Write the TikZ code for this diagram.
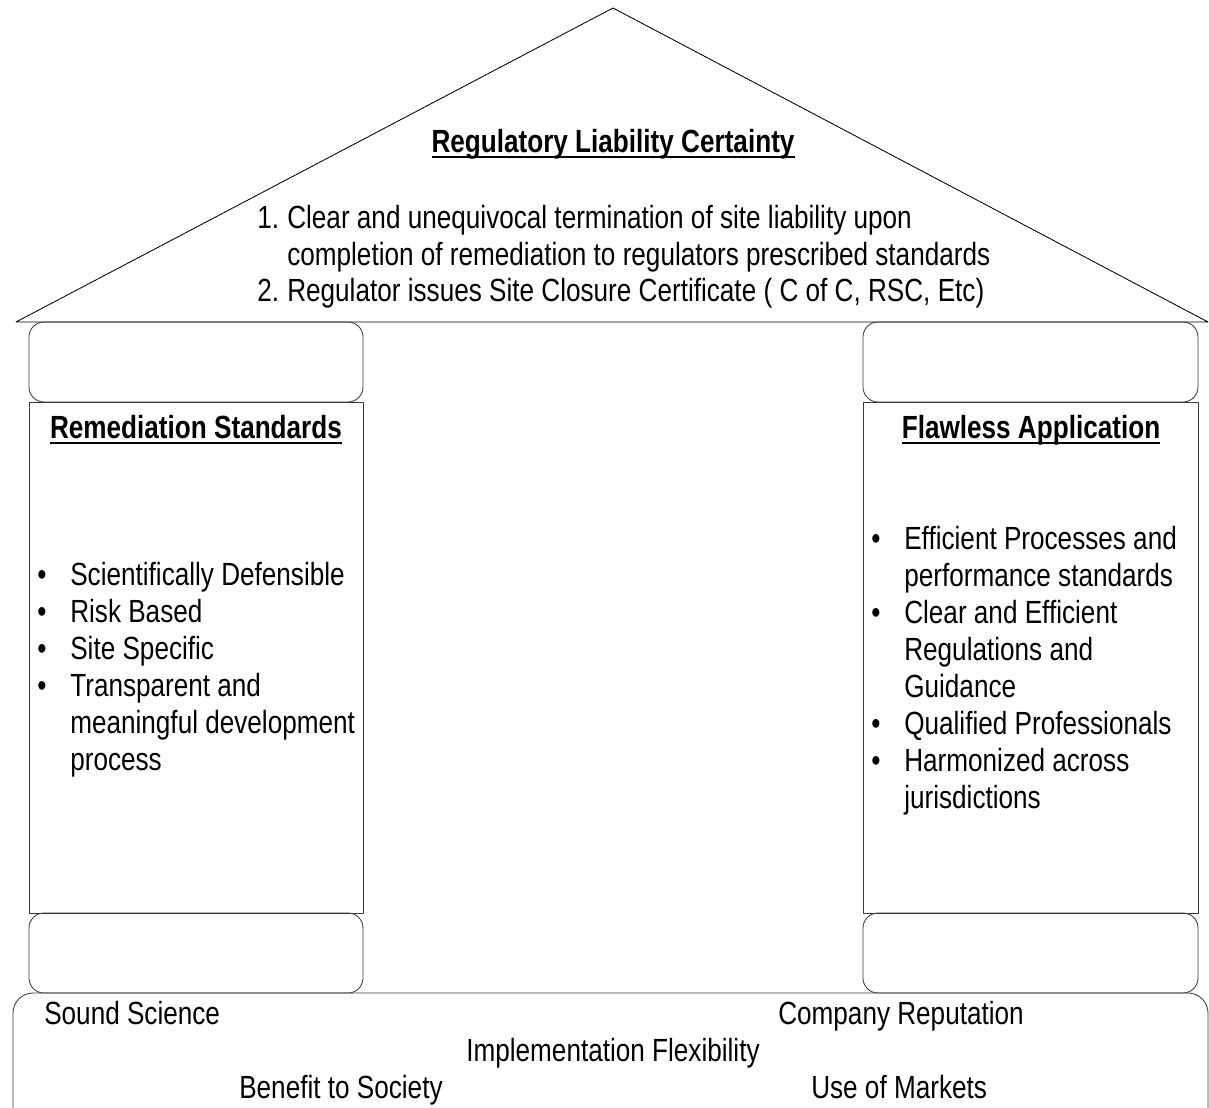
\documentclass[tikz,border=0pt]{standalone}
\usepackage{fontspec}
\setmainfont{Liberation Sans}[FakeStretch=0.815]
\usetikzlibrary{positioning}
\definecolor{edge}{HTML}{3A3A3A}
\newcommand{\wordul}[1]{\setbox0\hbox{#1}\rlap{\rule[-0.16em]{\wd0}{0.06em}}\box0}
\newcommand{\bitem}[1]{\makebox[0.825cm][l]{\textbullet}#1}
\newcommand{\bcont}[1]{\hspace*{0.825cm}#1}
\tikzset{
  every picture/.style={line join=round, line cap=round},
  txt/.style={inner sep=0pt, anchor=base west, align=left, font=\fontsize{22.8}{26.3}\selectfont},
  head/.style={inner sep=0pt, anchor=base, font=\fontsize{22.8}{26.3}\selectfont\bfseries},
  capital/.style={draw=edge, line width=0.6pt, rounded corners=0.375cm},
  shaft/.style={draw=edge, line width=0.6pt},
}

\begin{document}
\begin{tikzpicture}[x=0.025cm,y=-0.025cm]
\useasboundingbox (0,0) rectangle (1209,1108);
% roof
\draw[line width=0.6pt](16,322)--(613,8)--(1208,322)--cycle;
\node[head](rlc) at (613,153) {\wordul{Regulatory Liability Certainty}};
% list nodes sit on the baseline below their last line
\node[txt](roofList) at (257,302) {\makebox[0.75cm][l]{1.}Clear and unequivocal termination of site liability upon\\
\hspace*{0.75cm}completion of remediation to regulators prescribed standards\\
\makebox[0.75cm][l]{2.}Regulator issues Site Closure Certificate ( C of C, RSC, Etc)};
% left pillar
\draw[capital](29,322) rectangle (363,402);
\draw[shaft](29,402) rectangle (363,913);
\draw[capital](29,913) rectangle (363,993);
\node[head](remTitle) at (196,439) {\wordul{Remediation Standards}};
\node[txt](remList) at (37,770) {\bitem{Scientifically Defensible}\\ \bitem{Risk Based}\\ \bitem{Site Specific}\\
\bitem{Transparent and}\\ \bcont{meaningful development}\\ \bcont{process}};
% right pillar
\draw[capital](863,322) rectangle (1198,402);
\draw[shaft](863,402) rectangle (1198,913);
\draw[capital](863,913) rectangle (1198,993);
\node[head](flaTitle) at (1031,439) {\wordul{Flawless Application}};
\node[txt](flaList) at (871,808) {\bitem{Efficient Processes and}\\ \bcont{performance standards}\\
\bitem{Clear and Efficient}\\ \bcont{Regulations and}\\ \bcont{Guidance}\\
\bitem{Qualified Professionals}\\ \bitem{Harmonized across}\\ \bcont{jurisdictions}};
% foundation
\draw[capital, rounded corners=0.5cm](13,993) rectangle (1208,1130);
\node[txt](sound) at (44,1024) {Sound Science};
\node[txt](company) at (778,1024) {Company Reputation};
\node[head, font=\fontsize{22.8}{26.3}\selectfont](flex) at (613,1061) {Implementation Flexibility};
\node[txt](benefit) at (239,1098) {Benefit to Society};
\node[txt](markets) at (811,1098) {Use of Markets};
\end{tikzpicture}
\end{document}
